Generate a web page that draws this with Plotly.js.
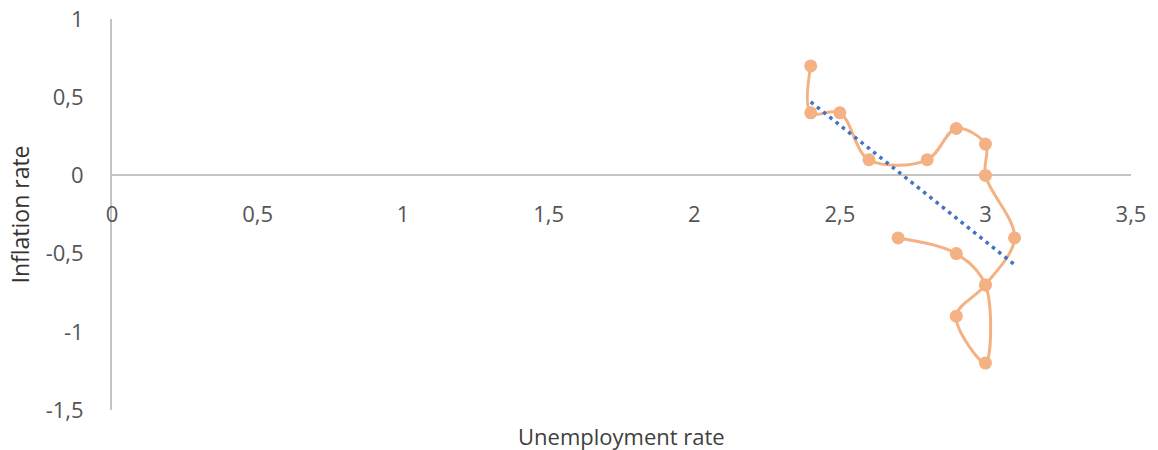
<!DOCTYPE html>
<html>
<head>
<meta charset="utf-8">
<script src="https://cdn.plot.ly/plotly-3.0.1.min.js"></script>
<style>
  html, body { margin: 0; padding: 0; background: #ffffff; }
  #chart { width: 1158px; height: 450px; }
</style>
</head>
<body>
<div id="chart"></div>
<script>
// Observations in time order: unemployment rate vs inflation rate
const unemployment = [2.4, 2.4, 2.5, 2.6, 2.8, 2.9, 3.0, 3.0, 3.1, 3.0, 2.9, 3.0, 3.0, 2.9, 2.7];
const inflation    = [0.7, 0.4, 0.4, 0.1, 0.1, 0.3, 0.2, 0.0, -0.4, -0.7, -0.9, -1.2, -0.7, -0.5, -0.4];

// Linear trend line end points
const trendUnemployment = [2.4, 3.1];
const trendInflation    = [0.47, -0.57];

// Axis tick labels (comma decimal separator, plain hyphen minus)
const xTickVals = [0, 0.5, 1, 1.5, 2, 2.5, 3, 3.5];
const xTickText = ['0', '0,5', '1', '1,5', '2', '2,5', '3', '3,5'];
const yTickVals = [-1.5, -1, -0.5, 0, 0.5, 1];
const yTickText = ['-1,5', '-1', '-0,5', '0', '0,5', '1'];

const xTitle = 'Unemployment rate';
const yTitle = 'Inflation rate';

const textColor = '#555555';
const axisColor = '#c4c4c4';
const font = { family: 'Open Sans, sans-serif', size: 22, color: textColor };

const traces = [
  {
    type: 'scatter',
    mode: 'lines+markers',
    x: unemployment,
    y: inflation,
    line: { color: '#F4B183', width: 3, shape: 'spline', smoothing: 1 },
    marker: { color: '#F4B183', size: 13 },
    hoverinfo: 'x+y'
  },
  {
    type: 'scatter',
    mode: 'lines',
    x: trendUnemployment,
    y: trendInflation,
    line: { color: '#4472C4', width: 3.5, dash: '3.5px,4.5px' },
    hoverinfo: 'skip'
  }
];

const layout = {
  width: 1158,
  height: 450,
  margin: { l: 112, r: 27, t: 19, b: 40, pad: 0 },
  paper_bgcolor: '#ffffff',
  plot_bgcolor: '#ffffff',
  showlegend: false,
  font: font,
  xaxis: {
    range: [0, 3.5],
    anchor: 'free',
    position: 0.6,
    showgrid: false,
    zeroline: false,
    showline: false,
    ticks: '',
    tickmode: 'array',
    tickvals: xTickVals,
    ticktext: xTickText,
    ticklabelstandoff: 24,
    tickfont: font,
    automargin: false
  },
  yaxis: {
    range: [-1.5, 1],
    showgrid: false,
    showline: true,
    linecolor: axisColor,
    linewidth: 2,
    zeroline: true,
    zerolinecolor: axisColor,
    zerolinewidth: 2,
    ticks: '',
    tickmode: 'array',
    tickvals: yTickVals,
    ticktext: yTickText,
    ticklabelstandoff: 22,
    tickfont: font,
    title: { text: yTitle, font: { family: 'Open Sans, sans-serif', size: 23, color: '#333333' }, standoff: 10 },
    automargin: false
  },
  annotations: [
    {
      text: xTitle,
      xref: 'paper', yref: 'paper',
      x: 0.5, y: 0,
      yshift: -9,
      xanchor: 'center', yanchor: 'top',
      showarrow: false,
      font: { family: 'Open Sans, sans-serif', size: 22, color: '#404040' }
    }
  ]
};

Plotly.newPlot('chart', traces, layout, { displayModeBar: false, staticPlot: true });
</script>
</body>
</html>
